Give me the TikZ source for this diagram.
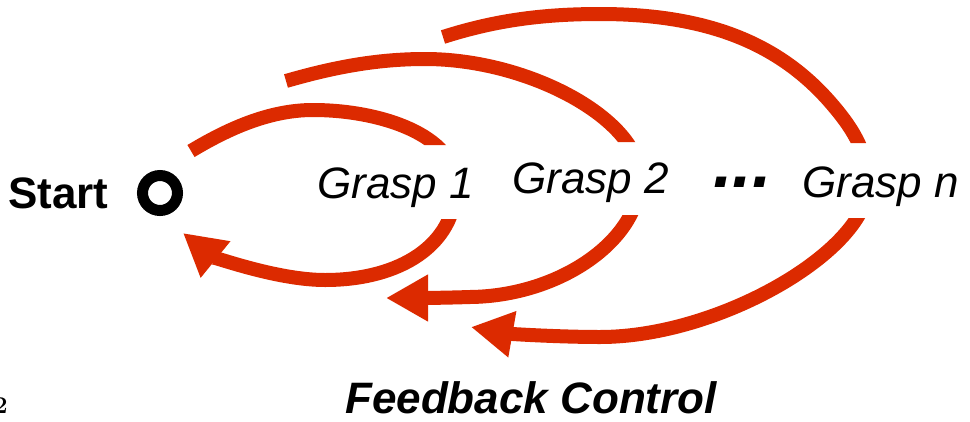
\documentclass[tikz,border=0pt]{standalone}
\usepackage{fontspec}
\setsansfont{Liberation Sans}
\usetikzlibrary{arrows.meta}
\definecolor{loopred}{RGB}{220,42,0}
\begin{document}
\begin{tikzpicture}[x=1pt, y=-1pt,
  feedback/.style={draw=loopred, line width=14pt,
    -{Triangle[length=42pt,width=44pt]}},
  grasplabel/.style={font=\fontsize{44}{48}\selectfont\sffamily\itshape,
    inner sep=0pt, anchor=base west},
]
\useasboundingbox (0,0) rectangle (970,421);

% states
\node[font=\fontsize{44}{48}\selectfont\sffamily\bfseries, inner sep=0pt,
      anchor=base west] (start) at (8,208) {Start};
\node[circle, draw, line width=11pt, minimum size=35pt, inner sep=0pt]
      (origin) at (160,193) {};
\node[grasplabel] (g1) at (317,198) {Grasp 1};
\node[grasplabel] (g2) at (512,193) {Grasp 2};
\node[font=\fontsize{70}{70}\selectfont\sffamily\bfseries\itshape,
      inner sep=0pt, anchor=base west] (dots) at (713,187) {...};
\node[grasplabel] (gn) at (802,197) {Grasp n};
\node[font=\fontsize{44}{48}\selectfont\sffamily\bfseries\itshape,
      inner sep=0pt, anchor=base west] (fb) at (345,413) {Feedback Control};
\node[font=\fontsize{24}{24}\selectfont\rmfamily\bfseries, inner sep=0pt,
      anchor=base west] (pagenum) at (-6,413) {2};

% ends of the feedback loops
\coordinate (s1) at (191,151);
\coordinate (r1) at (183,233);
\coordinate (s2) at (286,81);
\coordinate (r2) at (386,298);
\coordinate (s3) at (443,37);
\coordinate (r3) at (471,327);

% loop back from Grasp 1
\begin{scope}
  \clip (0,0) rectangle (395,421) (395,0) rectangle (520,145)
        (395,219) rectangle (520,421) (520,0) rectangle (970,421);
  \draw[feedback] (s1) .. controls (226,130) and (268,110) .. (313,110)
    .. controls (380,110) and (456,135) .. (456,185)
    .. controls (456,245) and (400,280) .. (325,280)
    .. controls (275,280) and (210,255) .. (r1);
\end{scope}

% loop back from Grasp 2
\begin{scope}
  \clip (0,0) rectangle (580,421) (580,0) rectangle (700,142)
        (580,215) rectangle (700,421) (700,0) rectangle (970,421);
  \draw[feedback] (s2) .. controls (331,68) and (375,59) .. (425,59)
    .. controls (530,59) and (640,120) .. (640,178)
    .. controls (640,240) and (560,296) .. (470,297)
    .. controls (440,298) and (415,298) .. (r2);
\end{scope}

% loop back from Grasp n
\begin{scope}
  \clip (0,0) rectangle (800,421) (800,0) rectangle (970,143)
        (800,218) rectangle (970,421);
  \draw[feedback] (s3) .. controls (493,21) and (540,14) .. (600,14)
    .. controls (710,14) and (780,45) .. (830,102)
    .. controls (850,125) and (868,150) .. (868,185)
    .. controls (868,250) and (720,337) .. (600,337)
    .. controls (560,337) and (511,334) .. (r3);
\end{scope}
\end{tikzpicture}
\end{document}
